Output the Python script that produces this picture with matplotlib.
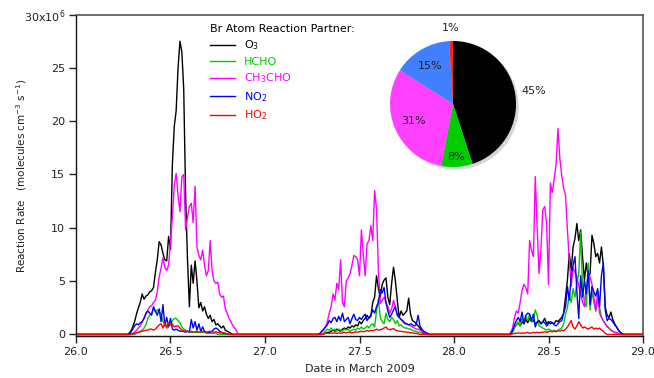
import numpy as np
import matplotlib.pyplot as plt

# reaction rates in units of 1e6 molecules cm-3 s-1, sampled every 0.01 day
# each day list starts at the matching entry of day_starts
day_starts = [26.27, 27.28, 28.29]

o3_d1 = [0, 0.1, 0.3, 0.7, 1.2, 1.9, 2.5, 3.0, 3.8, 3.3, 3.6, 3.7, 4.0, 4.1, 4.4, 5.8, 7.0, 8.7, 8.4, 7.6,
         7.0, 6.9, 9.2, 8.0, 16.0, 19.5, 21.0, 25.0, 27.5, 26.5, 23.0, 13.0, 7.0, 2.6, 6.5, 4.8, 6.9, 5.0, 2.5, 3.0,
         2.2, 2.6, 1.9, 1.5, 1.8, 1.2, 1.4, 0.9, 1.0, 0.8, 0.6, 0.8, 0.4, 0.3, 0.2, 0.1, 0]
o3_d2 = [0, 0, 0, 0.05, 0.1, 0.2, 0.2, 0.3, 0.4, 0.3, 0.5, 0.4, 0.3, 0.5, 0.6, 0.5, 0.7, 0.6, 0.8, 0.7,
         0.9, 0.8, 1.2, 1.0, 1.3, 1.5, 1.8, 1.5, 1.7, 3.0, 3.5, 5.5, 4.3, 3.5, 4.7, 5.1, 5.3, 3.5, 2.8, 4.8,
         6.3, 5.0, 3.2, 1.6, 2.2, 1.8, 2.0, 2.2, 3.4, 1.9, 1.3, 1.2, 1.0, 0.8, 0.6, 0.3, 0.1, 0]
o3_d3 = [0, 0, 0.3, 0.7, 0.9, 1.1, 0.8, 1.2, 1.0, 1.4, 1.1, 1.5, 1.2, 1.3, 1.0, 1.1, 1.3, 1.0, 1.2, 1.5,
         1.0, 1.2, 1.0, 1.1, 1.0, 1.3, 1.2, 1.4, 1.6, 2.0, 3.5, 5.1, 7.6, 6.0, 8.2, 9.0, 10.4, 8.8, 9.8, 7.3,
         5.1, 6.7, 5.4, 5.7, 9.3, 8.5, 7.3, 7.6, 6.7, 8.2, 6.5, 2.6, 1.8, 1.6, 2.1, 1.4, 1.0, 0.7, 0.4, 0.2, 0]

hcho_d1 = [0, 0, 0, 0, 0, 0.1, 0.2, 0.3, 0.4, 0.6, 0.9, 1.5, 1.8, 2.0, 2.4, 2.1, 2.3, 2.2, 1.9, 1.2,
           1.0, 0.9, 0.8, 0.9, 1.3, 1.5, 1.5, 1.3, 1.1, 0.7, 0.5, 0.4, 0.3, 0.2, 0.2, 0.2, 0.2, 0.2, 0.2, 0.2,
           0.2, 0.2, 0.1, 0.1, 0.1, 0.1, 0.1, 0.1, 0]
hcho_d2 = [0, 0, 0, 0.1, 0.3, 0.5, 0.4, 0.6, 0.4, 0.5, 0.3, 0.5, 0.4, 0.3, 0.5, 0.4, 0.5, 0.3, 0.4, 0.5,
           0.4, 0.6, 0.5, 0.7, 0.5, 0.6, 0.8, 0.6, 0.9, 1.0, 0.7, 2.2, 3.3, 1.6, 1.2, 1.0, 2.0, 1.4, 1.2, 1.6,
           1.4, 1.0, 1.3, 0.8, 0.9, 0.7, 0.6, 0.6, 0.5, 0.5, 0.4, 0.3, 0.3, 0.2, 0.2, 0.1, 0]
hcho_d3 = [0, 0, 0.2, 0.6, 0.9, 1.2, 0.8, 1.5, 1.1, 1.7, 1.3, 1.9, 1.2, 1.4, 2.3, 1.8, 0.8, 0.7, 0.6, 0.5,
           0.4, 0.5, 0.4, 0.3, 0.4, 0.3, 0.4, 0.5, 0.6, 1.0, 1.9, 2.5, 3.8, 3.0, 4.3, 3.5, 4.8, 5.7, 9.6, 4.5,
           3.0, 2.6, 6.7, 2.3, 4.0, 3.0, 2.2, 3.2, 2.6, 1.6, 1.3, 1.0, 0.8, 0.6, 0.4, 0.3, 0.2, 0.1, 0]

ch3cho_d1 = [0, 0, 0, 0.1, 0.2, 0.4, 0.6, 0.8, 1.2, 1.5, 1.9, 2.3, 2.6, 2.7, 3.0, 3.2, 4.0, 5.4, 6.2, 7.2,
             6.3, 6.0, 6.5, 8.8, 11.0, 14.0, 15.1, 13.0, 11.5, 14.8, 15.0, 9.8, 11.0, 12.0, 12.3, 10.5, 13.9, 8.2,
             7.4, 7.0, 7.9, 6.5, 5.5, 6.0, 8.8, 6.0, 5.0, 4.8, 4.9, 3.8, 3.5, 3.6, 2.4, 2.0, 1.5, 1.2, 0.8, 0.6,
             0.3, 0]
ch3cho_d2 = [0, 0.05, 0.2, 0.4, 0.7, 1.2, 2.0, 2.6, 3.8, 3.2, 4.8, 4.2, 7.0, 3.0, 2.6, 5.0, 5.3, 5.7, 6.5,
             7.4, 7.3, 7.0, 5.5, 9.8, 7.5, 5.5, 8.5, 8.8, 10.2, 8.8, 13.5, 11.8, 6.0, 2.9, 3.2, 3.5, 3.0, 2.6,
             2.0, 2.4, 3.2, 2.5, 1.8, 1.6, 1.4, 1.3, 1.1, 1.0, 0.9, 0.8, 0.7, 0.6, 0.5, 0.5, 0.4, 0.3, 0.2, 0.1, 0]
ch3cho_d3 = [0, 0.2, 0.6, 1.6, 2.2, 2.0, 3.0, 4.1, 4.7, 4.4, 3.8, 8.8, 7.9, 7.3, 14.8, 10.0, 5.7, 8.0, 11.7,
             12.0, 10.4, 4.7, 14.2, 13.3, 14.6, 15.9, 19.3, 16.5, 14.9, 13.7, 13.1, 9.8, 7.0, 4.5, 6.3, 5.8, 5.4,
             4.5, 3.8, 3.0, 2.6, 4.5, 5.0, 5.4, 4.7, 3.5, 2.2, 4.0, 2.0, 1.6, 1.3, 1.0, 0.7, 0.6, 0.4, 0.3, 0.2,
             0.2, 0.1, 0]

no2_d1 = [0, 0, 0.2, 0.5, 0.8, 1.0, 0.9, 1.1, 1.2, 1.5, 2.0, 2.2, 2.0, 1.8, 2.6, 2.2, 1.8, 2.4, 1.2, 2.8,
          0.8, 1.6, 0.7, 1.5, 0.5, 0.4, 0.5, 0.4, 0.3, 0.3, 0.3, 0.2, 0.3, 0.2, 1.4, 0.6, 1.2, 0.4, 1.0, 0.3,
          0.7, 0.3, 0.2, 0.2, 0.2, 0.3, 0.5, 0.6, 0.5, 0.3, 0.2, 0.1, 0.1, 0.05, 0]
no2_d2 = [0, 0.1, 0.3, 0.5, 0.7, 0.9, 1.3, 1.1, 1.5, 1.6, 1.2, 1.7, 1.3, 2.0, 1.2, 1.4, 1.6, 1.0, 1.5, 1.9,
          1.4, 1.3, 1.6, 1.4, 1.7, 1.9, 1.3, 1.6, 1.8, 2.3, 2.0, 2.6, 3.0, 4.2, 3.9, 4.4, 3.0, 2.2, 1.6, 1.9,
          2.3, 2.6, 1.8, 1.6, 1.4, 1.2, 1.0, 1.0, 0.9, 1.0, 0.9, 0.8, 0.9, 1.8, 0.8, 0.5, 0.3, 0.2, 0.1, 0]
no2_d3 = [0, 0, 0.4, 0.9, 1.3, 1.6, 1.2, 2.1, 1.0, 1.8, 2.0, 1.9, 1.3, 1.9, 0.7, 1.2, 1.3, 1.0, 1.2, 1.1,
          0.8, 1.0, 1.2, 1.1, 0.9, 0.8, 1.0, 1.2, 1.3, 2.0, 2.6, 4.5, 3.2, 5.5, 6.5, 7.3, 4.0, 1.5, 5.5, 3.5,
          5.1, 3.8, 6.0, 2.8, 4.5, 4.0, 3.6, 4.3, 2.6, 5.5, 6.7, 2.3, 1.3, 1.5, 1.4, 1.2, 0.9, 0.7, 0.4, 0.2,
          0.1, 0]

ho2_d1 = [0, 0, 0, 0.05, 0.1, 0.15, 0.2, 0.25, 0.3, 0.35, 0.4, 0.4, 0.5, 0.5, 0.4, 0.5, 0.7, 0.9, 1.0, 0.6,
          1.1, 0.6, 1.0, 0.9, 1.0, 0.7, 0.8, 0.8, 0.6, 0.4, 0.35, 0.3, 0.3, 0.25, 0.3, 0.2, 0.25, 0.3, 0.2,
          0.25, 0.3, 0.25, 0.2, 0.25, 0.3, 0.25, 0.2, 0.25, 0.2, 0.15, 0.15, 0.15, 0.1, 0.05, 0]
ho2_d2 = [0, 0, 0, 0.05, 0.1, 0.1, 0.1, 0.15, 0.1, 0.15, 0.1, 0.15, 0.1, 0.15, 0.2, 0.15, 0.2, 0.2, 0.15,
          0.2, 0.25, 0.2, 0.25, 0.3, 0.25, 0.3, 0.35, 0.3, 0.4, 0.35, 0.4, 0.5, 0.4, 0.45, 0.5, 0.6, 0.7, 0.5,
          0.45, 0.5, 0.55, 0.4, 0.35, 0.3, 0.3, 0.25, 0.25, 0.2, 0.2, 0.15, 0.15, 0.1, 0.1, 0.05, 0]
ho2_d3 = [0, 0, 0.05, 0.1, 0.1, 0.15, 0.1, 0.15, 0.1, 0.15, 0.2, 0.1, 0.15, 0.2, 0.15, 0.2, 0.15, 0.2, 0.2,
          0.25, 0.2, 0.25, 0.3, 0.25, 0.3, 0.25, 0.35, 0.3, 0.4, 0.35, 0.5, 0.7, 1.0, 1.3, 0.7, 0.5, 0.8, 1.2,
          0.9, 0.6, 0.7, 0.6, 0.5, 0.6, 0.7, 0.5, 0.6, 0.5, 0.6, 0.4, 0.3, 0.1, 0]

labels = ['O$_3$', 'HCHO', 'CH$_3$CHO', 'NO$_2$', 'HO$_2$']
line_colors = ['#000000', '#00c800', '#ff00ff', '#0000ff', '#ff0000']

# pie inset: share of total Br reaction rate (%)
pie_share = [45, 8, 31, 15, 1]
pie_colors = ['#000000', '#00cc00', '#ff40ff', '#4080ff', '#ff2020']


def build(days):
    t = [26.0]
    v = [0.0]
    for start, vals in zip(day_starts, days):
        t.extend(start + 0.01 * np.arange(len(vals)))
        v.extend(vals)
    t.append(29.0)
    v.append(0.0)
    return np.array(t), np.array(v)


all_series = [
    [o3_d1, o3_d2, o3_d3],
    [hcho_d1, hcho_d2, hcho_d3],
    [ch3cho_d1, ch3cho_d2, ch3cho_d3],
    [no2_d1, no2_d2, no2_d3],
    [ho2_d1, ho2_d2, ho2_d3],
]

plt.rcParams['font.family'] = 'DejaVu Sans'
plt.rcParams['font.size'] = 8

fig = plt.figure(figsize=(6.54, 3.78), dpi=100)
ax = fig.add_axes([0.1162, 0.111, 0.867, 0.8505])

for days, lab, col in zip(all_series, labels, line_colors):
    t, v = build(days)
    ax.plot(t, v, color=col, lw=1.0, label=lab)

ax.set_xlim(26.0, 29.0)
ax.set_ylim(-0.15, 30.0)
ax.set_xticks(np.arange(26.0, 29.01, 0.5))
ax.set_xticklabels(['%.1f' % x for x in np.arange(26.0, 29.01, 0.5)])
ax.set_yticks([0, 5, 10, 15, 20, 25, 30])
ax.set_yticklabels(['0', '5', '10', '15', '20', '25', '30x10$^6$'])
ax.tick_params(direction='out', length=5, width=1, colors='#222222', labelsize=8, pad=3)

for s in ['top', 'right']:
    ax.spines[s].set_color('#555555')
    ax.spines[s].set_linewidth(1.2)
for s in ['left', 'bottom']:
    ax.spines[s].set_color('#111111')
    ax.spines[s].set_linewidth(1.0)

ax.set_xlabel('Date in March 2009', fontsize=8, color='#222222', labelpad=5)
ax.set_ylabel('Reaction Rate   (molecules cm$^{-3}$ s$^{-1}$)', fontsize=7.5, color='#222222')
ax.yaxis.set_label_coords(-0.082, 0.5)

leg = ax.legend(title='Br Atom Reaction Partner:', loc='upper left', bbox_to_anchor=(0.228, 0.985),
                frameon=False, labelcolor='linecolor', handlelength=2.3, labelspacing=0.42,
                alignment='left', fontsize=8, title_fontsize=8, borderaxespad=0)

# pie inset (axes is 1.25x the pie radius on each side)
pw, ph = 0.1927 * 1.25, 0.3333 * 1.25
pax = fig.add_axes([0.6927 - pw / 2, 0.7249 - ph / 2, pw, ph])
wedges, texts, autotexts = pax.pie(pie_share, colors=pie_colors, startangle=90, counterclock=False,
                                   autopct='%d%%', pctdistance=0.7,
                                   wedgeprops=dict(linewidth=0),
                                   textprops=dict(fontsize=8, color='#222222'),
                                   shadow=dict(ox=0.03, oy=-0.03, facecolor='0.6', edgecolor='none', alpha=0.4))
label_r = [1.3, 0.84, 0.68, 0.7, 1.2]
for w, txt, r in zip(wedges, autotexts, label_r):
    ang = np.deg2rad((w.theta1 + w.theta2) / 2)
    txt.set_position((r * np.cos(ang), r * np.sin(ang)))
pax.set_xlim(-1.25, 1.25)
pax.set_ylim(-1.25, 1.25)
pax.set_aspect('equal')

fig.savefig('out.png', dpi=100)
